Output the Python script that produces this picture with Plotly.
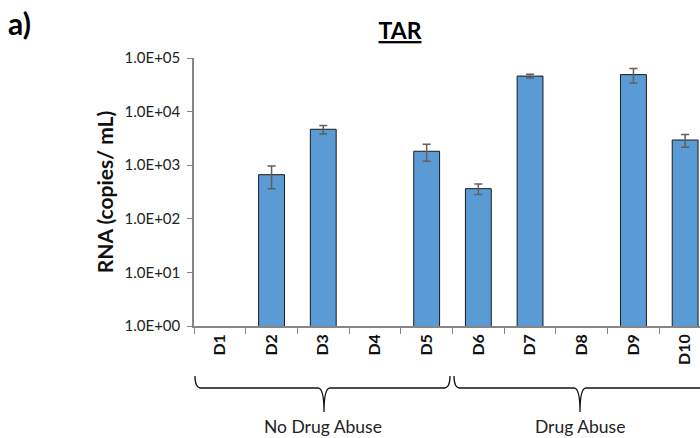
import plotly.graph_objects as go

categories = ["D1", "D2", "D3", "D4", "D5", "D6", "D7", "D8", "D9", "D10"]
rna_values = [None, 665, 4680, None, 1820, 365, 46000, None, 49000, 2950]
rna_errors = [0, 300, 850, 0, 640, 80, 3800, 0, 15000, 780]
ytick_vals = [1, 10, 100, 1000, 10000, 100000]
ytick_text = ["1.0E+00", "1.0E+01", "1.0E+02", "1.0E+03", "1.0E+04", "1.0E+05"]
group_labels = ["No Drug Abuse", "Drug Abuse"]

W, H = 700, 438
L, R, T, B = 194, 0, 58, 112
PW, PH = W - L - R, H - T - B

def px(x):
    return (x - L) / PW

def py(y):
    return (H - B - y) / PH

FONT = "Lato, 'Open Sans', sans-serif"

fig = go.Figure()
fig.add_trace(go.Bar(
    x=categories, y=rna_values, width=0.5,
    marker=dict(color="#5B9BD5", line=dict(color="#1a1a1a", width=1)),
    error_y=dict(type="data", array=rna_errors, visible=True,
                 color="#5f5f5f", thickness=1.5, width=4),
))

def brace(x0, xm, x1, ytop, yline, ytip, r=6):
    pts = []
    pts.append(f"M {px(x0)},{py(ytop)}")
    pts.append(f"Q {px(x0)},{py(yline)} {px(x0 + r)},{py(yline)}")
    pts.append(f"L {px(xm - r)},{py(yline)}")
    pts.append(f"Q {px(xm)},{py(yline)} {px(xm)},{py(ytip)}")
    pts.append(f"Q {px(xm)},{py(yline)} {px(xm + r)},{py(yline)}")
    pts.append(f"L {px(x1 - r)},{py(yline)}")
    pts.append(f"Q {px(x1)},{py(yline)} {px(x1)},{py(ytop)}")
    return " ".join(pts)

shapes = [
    dict(type="path", xref="paper", yref="paper",
         path=brace(195, 324, 450, 376, 388, 412),
         line=dict(color="#111111", width=1.3)),
    dict(type="path", xref="paper", yref="paper",
         path=brace(454, 580, 706, 376, 388, 412),
         line=dict(color="#111111", width=1.3)),
]

annotations = [
    dict(text=group_labels[0], xref="paper", yref="paper", x=px(323), y=py(426),
         xanchor="center", yanchor="middle",
         showarrow=False, font=dict(size=17.5, color="#222", family=FONT)),
    dict(text=group_labels[1], xref="paper", yref="paper", x=px(580), y=py(426),
         xanchor="center", yanchor="middle",
         showarrow=False, font=dict(size=17.5, color="#222", family=FONT)),
    dict(text="<b>a)</b>", xref="paper", yref="paper", x=px(6), y=py(23),
         xanchor="left", yanchor="middle", showarrow=False,
         font=dict(size=30, color="#000", family=FONT)),
]

fig.update_layout(
    width=W, height=H,
    margin=dict(l=L, r=R, t=T, b=B),
    paper_bgcolor="white", plot_bgcolor="white",
    showlegend=False,
    font=dict(family=FONT, color="#222"),
    title=dict(text="<b><u>TAR</u></b>", xref="container", x=400 / W, xanchor="center",
               yref="container", y=1 - 31 / H, yanchor="middle",
               font=dict(size=23, color="#000", family=FONT)),
    shapes=shapes,
    annotations=annotations,
    xaxis=dict(
        type="category", range=[-0.5, -0.5 + PW / 51.7],
        tickson="boundaries", ticks="outside", ticklen=6, tickcolor="#868686", tickwidth=1.3,
        showline=True, linecolor="#868686", linewidth=1.5,
        tickangle=-90, showgrid=False,
        tickfont=dict(size=16, color="#111", family=FONT, weight="bold"),
    ),
    yaxis=dict(
        type="log", range=[0, 5],
        tickvals=ytick_vals, ticktext=ytick_text,
        ticks="outside", ticklen=5, tickcolor="#868686", tickwidth=1.3,
        ticklabelstandoff=4,
        showline=True, linecolor="#868686", linewidth=1.5,
        showgrid=False, zeroline=False,
        tickfont=dict(size=15, color="#222", family=FONT),
        title=dict(text="<b>RNA (copies/ mL)</b>", standoff=5,
                   font=dict(size=21, color="#111", family=FONT)),
    ),
)

fig.write_html(
    "out.html",
    config={"displayModeBar": False},
    post_script="document.body.style.margin='0';document.body.style.overflow='hidden';",
)
